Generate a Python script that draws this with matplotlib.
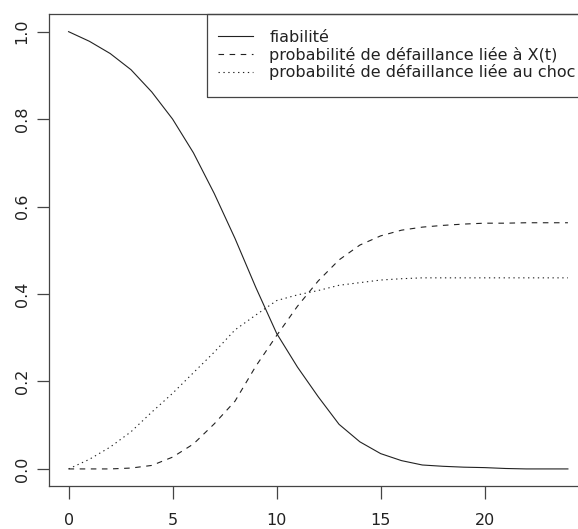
import matplotlib
matplotlib.use("Agg")
import matplotlib.pyplot as plt
from matplotlib.patches import Rectangle

# ---------------- Data ----------------

t = list(range(25))

fiabilite = [1.0, 0.978, 0.95, 0.913, 0.862, 0.80, 0.723, 0.63, 0.527, 0.415,
             0.31, 0.233, 0.165, 0.102, 0.062, 0.035, 0.019, 0.009, 0.006,
             0.004, 0.003, 0.001, 0.0, 0.0, 0.0]

defaillance_x = [0.0, 0.0, 0.0, 0.002, 0.008, 0.027, 0.057, 0.103, 0.155,
                 0.235, 0.305, 0.372, 0.43, 0.478, 0.512, 0.533, 0.546, 0.553,
                 0.557, 0.56, 0.562, 0.562, 0.563, 0.563, 0.563]

defaillance_choc = [0.0, 0.022, 0.05, 0.085, 0.13, 0.173, 0.22, 0.267, 0.318,
                    0.352, 0.385, 0.398, 0.408, 0.42, 0.426, 0.432, 0.435,
                    0.437, 0.437, 0.437, 0.437, 0.437, 0.437, 0.437, 0.437]

labels = ["fiabilité",
          "probabilité de défaillance liée à X(t)",
          "probabilité de défaillance liée au choc"]

x_ticks = [0, 5, 10, 15, 20]
y_ticks = [0.0, 0.2, 0.4, 0.6, 0.8, 1.0]

# ---------------- Figure ----------------

plt.rcParams["font.family"] = ["DejaVu Sans"]
fs = 11.5

fig = plt.figure(figsize=(5.78, 5.29), dpi=100)
# plot region runs past the right edge, like the cropped original
ax = fig.add_axes([0.0841, 0.0805, 0.933, 0.8927])

col = "#222222"
ax.plot(t, fiabilite, color=col, lw=0.8, ls="-", label=labels[0])
ax.plot(t, defaillance_x, color=col, lw=0.8, dashes=(5, 5), label=labels[1])
ax.plot(t, defaillance_choc, color=col, lw=0.8, dashes=(1.2, 3.2), label=labels[2])

ax.set_xlim(-0.96, 24.96)
ax.set_ylim(-0.04, 1.04)
ax.set_xticks(x_ticks)
ax.set_xticklabels([str(v) for v in x_ticks])
ax.set_yticks(y_ticks)
ax.set_yticklabels([f"{v:.1f}" for v in y_ticks], rotation=90, va="center")

box_col = "#444444"
for s in ax.spines.values():
    s.set_color(box_col)
    s.set_linewidth(0.9)

ax.tick_params(direction="out", length=9, width=0.9, color=box_col,
               labelcolor="#222222", labelsize=fs)
ax.tick_params(axis="x", pad=10)
ax.tick_params(axis="y", pad=4.7)

# ---------------- Legend ----------------

leg = ax.legend(loc="upper left", bbox_to_anchor=(0.3142, 0.9665),
                borderaxespad=0, borderpad=0, frameon=False,
                handlelength=2.19, handletextpad=1.02, labelspacing=0.1,
                fontsize=fs)
for txt in leg.get_texts():
    txt.set_color("#222222")

frame = Rectangle((0.2938, 0.824), 0.75, 0.176, transform=ax.transAxes,
                  fill=False, edgecolor=box_col, linewidth=0.9, clip_on=False)
ax.add_patch(frame)

fig.savefig("out.png", dpi=100)
plt.close(fig)
